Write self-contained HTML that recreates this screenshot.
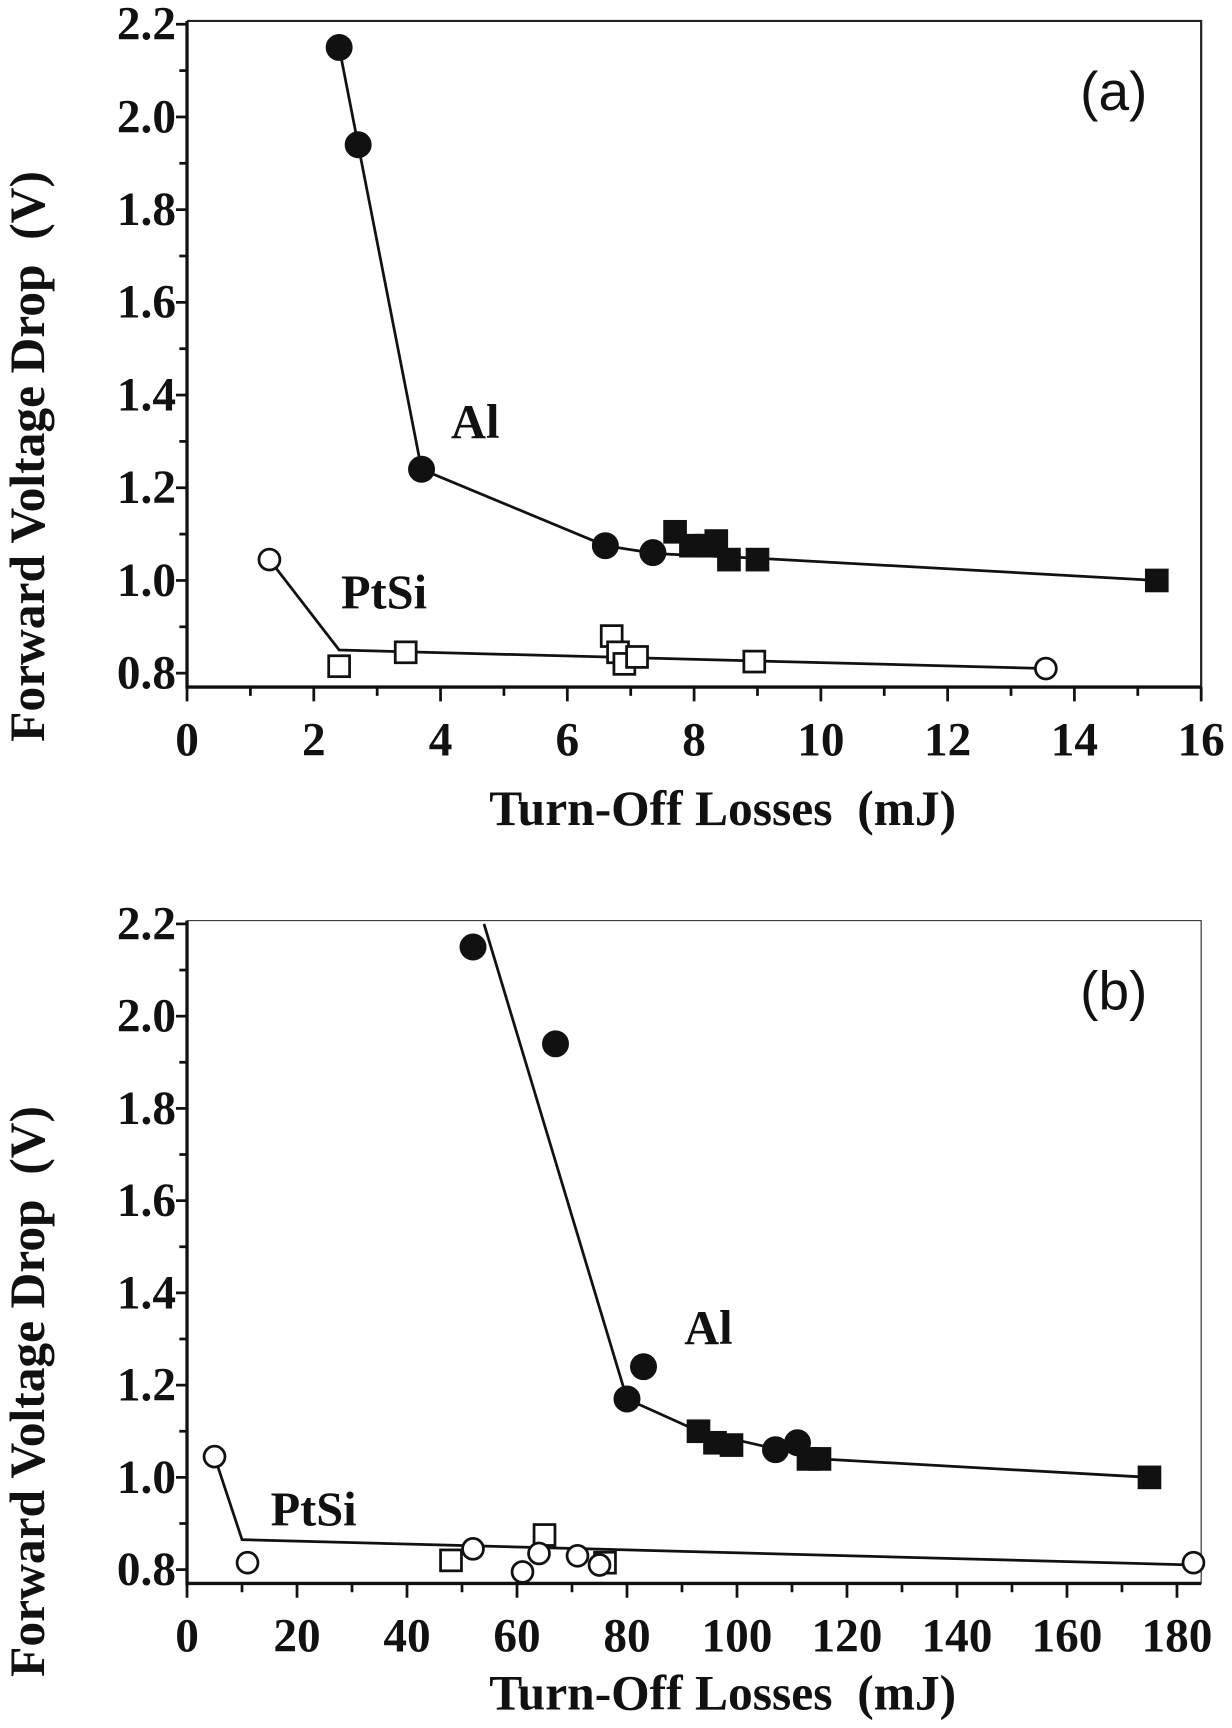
<!DOCTYPE html>
<html><head><meta charset="utf-8"><style>
html,body{margin:0;padding:0;background:#fff}
svg{display:block}
.tk{font-family:"Liberation Serif",serif;font-weight:bold;font-size:43px;fill:#111}
.tt{font-family:"Liberation Serif",serif;font-weight:bold;font-size:45px;fill:#111}
.lb{font-family:"Liberation Serif",serif;font-weight:bold;font-size:44px;fill:#111}
.pn{font-family:"Liberation Sans",sans-serif;font-size:50px;fill:#111}
</style></head><body>
<svg id="chart" width="1232" height="1728" viewBox="0 0 1120 1571" xmlns="http://www.w3.org/2000/svg"></svg>
<script>
// Panel (a)
const aAlCirX=[2.4,2.7,3.7,6.6,7.35];
const aAlCirY=[2.15,1.94,1.24,1.075,1.06];
const aAlSqX=[7.7,7.95,8.2,8.35,8.55,9.0,15.3];
const aAlSqY=[1.105,1.075,1.075,1.085,1.045,1.045,1.0];
const aAlLineX=[2.4,2.7,3.7,6.6,7.4,9.0,15.3];
const aAlLineY=[2.15,1.94,1.24,1.075,1.058,1.048,1.0];
const aPtCirX=[1.3,13.55];
const aPtCirY=[1.045,0.81];
const aPtSqX=[2.4,3.45,6.7,6.8,6.9,7.1,8.95];
const aPtSqY=[0.815,0.845,0.88,0.845,0.82,0.835,0.825];
const aPtLineX=[1.3,2.4,13.55];
const aPtLineY=[1.045,0.85,0.81];
const aXTicks=[0,2,4,6,8,10,12,14,16];
// Panel (b)
const bAlCirX=[52,67,83,80,107,111];
const bAlCirY=[2.15,1.94,1.24,1.17,1.06,1.075];
const bAlSqX=[93,96,99,113,115,175];
const bAlSqY=[1.1,1.075,1.07,1.04,1.04,1.0];
const bAlLineX=[54,80,93,115,175];
const bAlLineY=[2.2,1.17,1.1,1.04,1.0];
const bPtCirX=[5,11,52,61,64,71,75,183];
const bPtCirY=[1.045,0.815,0.845,0.795,0.835,0.83,0.81,0.815];
const bPtSqX=[48,65,76];
const bPtSqY=[0.82,0.875,0.815];
const bPtLineX=[5,10,183];
const bPtLineY=[1.045,0.865,0.81];
const bXTicks=[0,20,40,60,80,100,120,140,160,180];
const yTicks=[0.8,1.0,1.2,1.4,1.6,1.8,2.0,2.2];

const NS="http://www.w3.org/2000/svg";
const svg=document.getElementById('chart');
function mk(tag,attrs,parent){const e=document.createElementNS(NS,tag);for(const k in attrs)e.setAttribute(k,attrs[k]);(parent||svg).appendChild(e);return e;}

function panel(p){
  const g=mk('g',{});
  
  
  const L=170,R=1092;
  const sx=v=>L+(v-p.x0)/(p.x1-p.x0)*(R-L);
  const sy=v=>p.y08-(v-0.8)*p.ky;
  const yBot=sy(0.77), yTop=sy(2.2);
  const fr=mk('path',{d:`M${L},${yTop-3}L${L},${yBot}L${R},${yBot}L${R},${yTop-3}L${L},${yTop-3}`,fill:'none',stroke:'#222','stroke-width':p.frameW},g);
  
  
  mk('path',{d:`M${L},${yTop-3}L${L},${yBot}L${R},${yBot}`,fill:'none',stroke:'#111','stroke-width':3},g);
  for(let i=0;i<=14;i++){const v=0.8+i*0.1;const y=sy(v);mk('line',{x1:L-(i%2?7:10),x2:L,y1:y,y2:y,stroke:'#111','stroke-width':2.5},g);}
  yTicks.forEach(v=>{const t=mk('text',{x:L-10,y:sy(v)+14,'text-anchor':'end',class:'tk'},g);t.textContent=v.toFixed(1);
    
    });
  const step=p.xt[1]-p.xt[0];
  for(let v=p.x0;v<=p.x1+1e-9;v+=step/2){const x=sx(v);const maj=Math.abs(v/step-Math.round(v/step))<1e-6;mk('line',{x1:x,x2:x,y1:yBot,y2:yBot+(maj?13:8),stroke:'#111','stroke-width':2.5},g);}
  p.xt.forEach(v=>{const t=mk('text',{x:sx(v),y:yBot+62,'text-anchor':'middle',class:'tk'},g);t.textContent=v;
    
    });
  const xt=mk('text',{x:657,y:p.xTitleY,'text-anchor':'middle',class:'tt'},g);xt.textContent='Turn-Off Losses\u00a0\u00a0(mJ)';
  
  
  const yt=mk('text',{x:0,y:0,'text-anchor':'middle',class:'tt',transform:`translate(40,${p.yTitleC}) rotate(-90)`},g);yt.textContent='Forward Voltage Drop\u00a0\u00a0(V)';
  
  
  function line(xs,ys,name){const d=xs.map((x,i)=>(i?'L':'M')+sx(x)+','+sy(ys[i])).join('');const l=mk('path',{d,fill:'none',stroke:'#111','stroke-width':2.5},g);
    
    }
  line(p.alLX,p.alLY,'al-line');line(p.ptLX,p.ptLY,'ptsi-line');
  function circ(xs,ys,fill,name){xs.forEach((x,i)=>{const c=mk('circle',{cx:sx(x),cy:sy(ys[i]),r:fill?11:9.5,fill:fill?'#111':'#fff',stroke:'#111','stroke-width':2.5},g);
    
    });}
  function sq(xs,ys,fill,name){xs.forEach((x,i)=>{const s=mk('rect',{x:sx(x)-9.5,y:sy(ys[i])-9.5,width:19,height:19,fill:fill?'#111':'#fff',stroke:'#111','stroke-width':2.5},g);
    
    });}
  sq(p.ptSX,p.ptSY,false,'ptsi-square-point');circ(p.ptCX,p.ptCY,false,'ptsi-circle-point');
  sq(p.alSX,p.alSY,true,'al-square-point');circ(p.alCX,p.alCY,true,'al-circle-point');
  const a=mk('text',{x:p.alLab[0],y:p.alLab[1],class:'lb'},g);a.textContent='Al';
  
  
  const s=mk('text',{x:p.ptLab[0],y:p.ptLab[1],class:'lb'},g);s.textContent='PtSi';
  
  
  const pl=mk('text',{x:982,y:yTop+78,class:'pn'},g);pl.textContent='('+p.id+')';
  
  
}
panel({id:'a',x0:0,x1:16,y08:612,ky:421.4,xt:aXTicks,xTitleY:750,frameW:2,yTitleC:415,
  alCX:aAlCirX,alCY:aAlCirY,alSX:aAlSqX,alSY:aAlSqY,alLX:aAlLineX,alLY:aAlLineY,
  ptCX:aPtCirX,ptCY:aPtCirY,ptSX:aPtSqX,ptSY:aPtSqY,ptLX:aPtLineX,ptLY:aPtLineY,alLab:[410,398],ptLab:[310,553]});
panel({id:'b',x0:0,x1:184.4,y08:1427,ky:419.3,xt:bXTicks,xTitleY:1554,frameW:1,yTitleC:1265,
  alCX:bAlCirX,alCY:bAlCirY,alSX:bAlSqX,alSY:bAlSqY,alLX:bAlLineX,alLY:bAlLineY,
  ptCX:bPtCirX,ptCY:bPtCirY,ptSX:bPtSqX,ptSY:bPtSqY,ptLX:bPtLineX,ptLY:bPtLineY,alLab:[622,1222],ptLab:[246,1387]});
</script>
</body></html>
